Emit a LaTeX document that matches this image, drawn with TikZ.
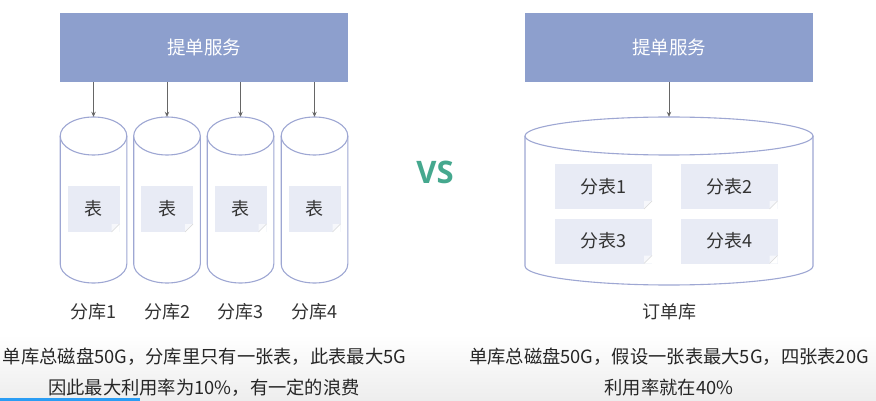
\documentclass[tikz,border=0pt]{standalone}
\usepackage{fontspec}
\setmainfont{Noto Sans CJK SC}
\newfontfamily\vsfont{Open Sans}
\usetikzlibrary{arrows.meta}
\definecolor{svcfill}{HTML}{8D9FCD}
\definecolor{cylline}{HTML}{9EA7D3}
\definecolor{docfill}{HTML}{E8EBF5}
\definecolor{docfold}{HTML}{F6F7FB}
\definecolor{txt}{HTML}{333333}
\definecolor{vsgreen}{HTML}{45A88E}
\definecolor{arrowc}{HTML}{666666}
\definecolor{barblue}{HTML}{2A9DF4}
\tikzset{
  svc/.style={fill=svcfill, draw=none, minimum width=288pt, minimum height=69pt, inner sep=0pt, text=white, font=\fontsize{18.5}{20}\selectfont},
  cylarea/.style={draw=none, inner sep=0pt},
  cylpath/.style={draw=cylline, line width=1.1pt, fill=white},
  doc/.style={fill=docfill, draw=none, inner sep=0pt, text=txt, font=\fontsize{18}{20}\selectfont,
    path picture={
      \fill[white] ([xshift=-8pt]path picture bounding box.south east) -- (path picture bounding box.south east) -- ([yshift=8pt]path picture bounding box.south east) -- cycle;
      \fill[docfold] ([xshift=-8pt]path picture bounding box.south east) -- ([xshift=-8pt,yshift=8pt]path picture bounding box.south east) -- ([yshift=8pt]path picture bounding box.south east) -- cycle;
      \draw[black!15, line width=0.5pt] ([xshift=-8pt]path picture bounding box.south east) -- ([yshift=8pt]path picture bounding box.south east);
    }},
  lbl/.style={text=txt, inner sep=0pt, font=\fontsize{18}{20}\selectfont},
  note/.style={text=black!85, inner sep=0pt, font=\fontsize{18.3}{20}\selectfont},
  conn/.style={draw=arrowc, line width=0.7pt, -{Stealth[length=5pt,width=4.5pt]}},
}
% #1 cx, #2 rx, #3 top, #4 bottom, #5 ry
\newcommand\mycyl[5]{%
  \draw[cylpath] ({#1-#2},{#3+#5}) -- ({#1-#2},{#4-#5}) arc[start angle=180,end angle=0,x radius=#2,y radius=#5] -- ({#1+#2},{#3+#5});
  \draw[cylpath] (#1,{#3+#5}) ellipse[x radius=#2, y radius=#5];
}
\begin{document}
\begin{tikzpicture}[x=1pt,y=-1pt]
\useasboundingbox (0,0) rectangle (876,401);
\shade[top color=white, bottom color=black!7] (0,335) rectangle (876,401);
\fill[barblue] (0,398) rectangle (140,401);

% left side
\node[svc] (svcL) at (204,47.5) {\raisebox{-3pt}{提单服务}};
\foreach \i/\cx in {1/93.5,2/167,3/240.5,4/314.5}{
  \node[cylarea, minimum width=66.6pt, minimum height=166pt] (db\i) at (\cx,200) {};
  \mycyl{\cx}{33.3}{117}{283}{19}
  \node[doc, minimum width=52pt, minimum height=46pt] (t\i) at (\cx,209) {表};
  \node[lbl] (l\i) at (\cx,311.5) {分库\i};
  \draw[conn] (svcL.south -| db\i.north) -- (db\i.north);
}

\node[text=vsgreen, font=\vsfont\bfseries\fontsize{31}{33}\selectfont, inner sep=0pt] (vs) at (435,172) {VS};

% right side
\node[svc] (svcR) at (669,47.5) {\raisebox{-3pt}{提单服务}};
\node[cylarea, minimum width=288pt, minimum height=168pt] (dbR) at (669,201) {};
\mycyl{669}{144}{117}{285}{19}
\draw[conn] (svcR) -- (dbR.north);
\node[doc, minimum width=97pt, minimum height=45pt] (s1) at (603.5,186.5) {分表1};
\node[doc, minimum width=97pt, minimum height=45pt] (s2) at (729,186.5) {分表2};
\node[doc, minimum width=97pt, minimum height=45pt] (s3) at (603.5,241) {分表3};
\node[doc, minimum width=97pt, minimum height=45pt] (s4) at (729,241) {分表4};
\node[lbl] (lR) at (669,311.5) {订单库};

% notes
\node[note] (n1) at (204.5,357) {单库总磁盘50G，分库里只有一张表，此表最大5G};
\node[note] (n2) at (204,387.5) {因此最大利用率为10\%，有一定的浪费};
\node[note] (n3) at (669,357) {单库总磁盘50G，假设一张表最大5G，四张表20G};
\node[note] (n4) at (669,387.5) {利用率就在40\%};
\end{tikzpicture}
\end{document}
